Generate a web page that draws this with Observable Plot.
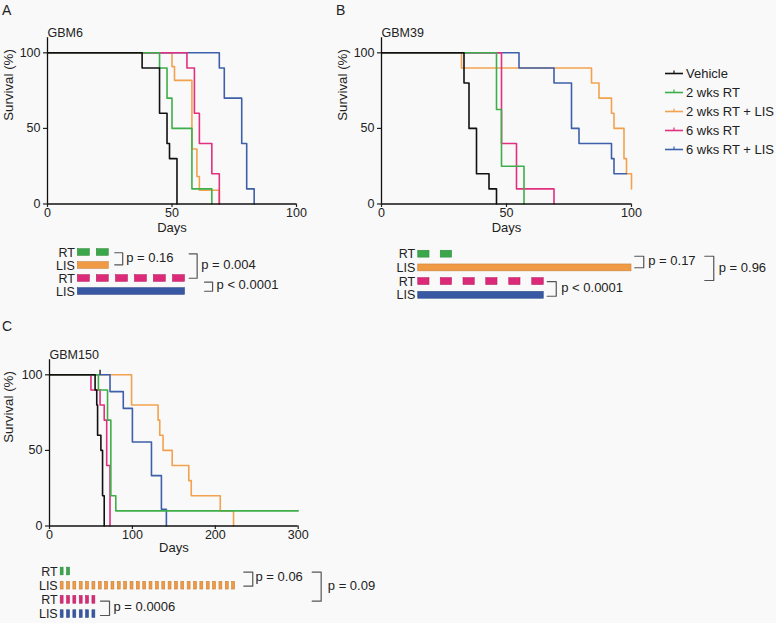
<!DOCTYPE html>
<html><head><meta charset="utf-8">
<script src="https://cdn.jsdelivr.net/npm/d3@7"></script>
<script src="https://cdn.jsdelivr.net/npm/@observablehq/plot@0.6"></script>
<style>
html,body{margin:0;padding:0;background:#f9f9f9;}
#root{position:relative;width:776px;height:623px;overflow:hidden;font-family:"Liberation Sans",Arial,Helvetica,sans-serif;color:#222;}
.letter{position:absolute;font-size:14px;line-height:14px;}
.legend{position:absolute;left:665px;top:64px;font-size:13px;}
.legend .row{display:flex;align-items:center;height:19px;}
.legend svg{display:block;margin-right:3px;}
</style></head>
<body><div id="root"></div>
<script>
// ---------- DATA ----------
const GROUPS = ["Vehicle", "2 wks RT", "2 wks RT + LIS", "6 wks RT", "6 wks RT + LIS"];
const COLORS = ["#111111", "#3fae4a", "#f2a24f", "#e0307f", "#3e5fa9"];

// GBM6 survival steps [day, survival %]
const gbm6Vehicle = [[0,100],[38,90],[45,60],[48,40],[49,30],[52,0]];
const gbm6Rt2     = [[0,100],[45,90],[48,70],[50,50],[58,10],[66,0]];
const gbm6Rt2Lis  = [[0,100],[50,90.9],[51,81.8],[58,36.4],[60,18.2],[61,9.1],[69,0]];
const gbm6Rt6     = [[0,100],[56,90],[59,60],[61,40],[66,20],[69,0]];
const gbm6Rt6Lis  = [[0,100],[69,90],[71,70],[78,40],[80,10],[83,0]];

// GBM39
const gbm39Vehicle = [[0,100],[33,80],[35,50],[38,20],[43,10],[46,0]];
const gbm39Rt2     = [[0,100],[46,62.5],[48,25],[57,0]];
const gbm39Rt2Lis  = [[0,100],[32,90],[84,80],[87,70],[92,60],[93,50],[97,30],[98,20],[100,10]];
const gbm39Rt6     = [[0,100],[48,40],[54,10],[69,0]];
const gbm39Rt6Lis  = [[0,100],[55,90],[69,80],[76,50],[79,40],[92,30],[93,20],[98,20]];

// GBM150
const gbm150Vehicle = [[0,100],[55,90],[57,80],[58,60],[62,50],[64,20],[66,0]];
const gbm150Rt2     = [[0,100],[59,90],[70,70],[74,20],[80,10],[300,10]];
const gbm150Rt2Lis  = [[0,100],[99,80],[131,70],[133,60],[137,50],[148,40],[168,30],[171,20],[206,10],[222,0]];
const gbm150Rt6     = [[0,100],[50,90],[61,80],[66,70],[69,40],[73,0]];
const gbm150Rt6Lis  = [[0,100],[73,88.9],[89,77.8],[100,55.6],[123,33.3],[135,11.1],[141,0]];
const gbm150Censor  = [[61,100]];

// Treatment schedules [start day, end day]
const gbm6Rt2Sched  = [[12.2,17.0],[19.8,24.6]];
const gbm6Lis2Sched = [[12.2,24.6]];
const gbm6Rt6Sched  = [[12.2,17.0],[19.8,24.6],[27.5,32.3],[35.1,39.9],[42.7,47.5],[50.4,55.2]];
const gbm6Lis6Sched = [[12.2,55.2]];

const gbm39Rt2Sched  = [[14.7,19.2],[23.7,28.2]];
const gbm39Lis2Sched = [[14.7,100]];
const gbm39Rt6Sched  = [[14.7,19.2],[23.7,28.2],[32.8,37.3],[41.9,46.4],[51.1,55.6],[60.3,64.9]];
const gbm39Lis6Sched = [[14.7,64.9]];

const gbm150WeekStarts = [13.5,21.2,28.8,36.5,44.1,51.8,59.5,67.1,74.8,82.4,90.1,97.8,105.4,113.1,
  120.7,128.4,136.1,143.7,151.4,159.0,166.7,174.4,182.0,189.7,197.3,205.0,212.7,220.3];
const gbm150DoseDays = 3.5;
const gbm150Rt2Starts  = [13.5,21.2];
const gbm150Lis2Starts = gbm150WeekStarts;
const gbm150Rt6Starts  = [13.5,21.2,28.8,36.5,44.1,51.8];
const gbm150Lis6Starts = [13.5,21.2,28.8,36.5,44.1,51.8];

const schedLabels = ["RT", "LIS", "RT", "LIS"];
const schedColors = ["#3aa84a", "#f09a45", "#dc2a79", "#3858a4"];

// p-values
const gbm6P   = ["p = 0.16", "p = 0.004", "p < 0.0001"];
const gbm39P  = ["p = 0.17", "p = 0.96", "p < 0.0001"];
const gbm150P = ["p = 0.06", "p = 0.09", "p = 0.0006"];

// ---------- DRAWING ----------
const root = document.getElementById("root");
const FONT = '"Liberation Sans", Arial, Helvetica, sans-serif';
function place(node, left, top) {
  node.style.position = "absolute";
  node.style.left = left + "px";
  node.style.top = top + "px";
  root.appendChild(node);
}
function baseStyle(fs) {
  return {background: "transparent", fontFamily: FONT, fontSize: fs + "px", color: "#222", overflow: "visible"};
}

function kmPlot(p) {
  const H = 245;
  const order = [2, 4, 3, 1, 0];
  const lines = order.map(i => Plot.line(p.series[i], {
    x: d => d[0], y: d => d[1], curve: "step-after", stroke: COLORS[i], strokeWidth: 1.6
  }));
  const marks = [
    Plot.axisX({ticks: p.xTicks, tickSize: 3.5, tickPadding: 1, label: null, strokeWidth: 1.2, fontSize: 12.5}),
    Plot.axisY({ticks: [0, 50, 100], tickSize: 4, tickPadding: 3, label: null, strokeWidth: 1.2, fontSize: 12.5}),
    ...lines,
    Plot.ruleY([0], {stroke: "#111", strokeWidth: 1.3}),
    Plot.ruleX([0], {stroke: "#111", strokeWidth: 1.3}),
    Plot.text([p.title], {text: d => d, frameAnchor: "top-left", dy: -10, textAnchor: "start", fontSize: 12.5}),
    Plot.text(["Days"], {text: d => d, frameAnchor: "bottom", dy: p.daysDy, fontSize: 13}),
    Plot.text(["Survival (%)"], {text: d => d, frameAnchor: "left", dx: p.yLabelDx, rotate: -90, fontSize: 13.3})
  ];
  if (p.censor) marks.push(Plot.ruleX(p.censor, {x: d => d[0], y1: d => d[1], y2: d => d[1] + 3, stroke: "#111", strokeWidth: 1.3}));
  return Plot.plot({
    width: p.width, height: H,
    marginLeft: p.mL, marginRight: p.width - p.mL - p.xw,
    marginTop: 37.2, marginBottom: H - 203.5,
    x: {domain: p.xDomain}, y: {domain: [0, 110]},
    style: baseStyle(12.5),
    marks
  });
}

function schedPlot(p) {
  const rows = p.rows.map((bars, i) => ({label: schedLabels[i], color: schedColors[i], bars}));
  const rects = rows.flatMap((r, i) => r.bars.map(b => ({row: i, s: b[0], e: b[1], color: r.color})));
  const h = p.barHalf;
  const br = p.brackets.map((b, i) => ({...b, p: p.pvals[i]}));
  return Plot.plot({
    width: p.width, height: p.height, margin: 0,
    x: {domain: p.xDomain, range: p.xRange, axis: null},
    y: {domain: [0, 3], range: p.yRange, axis: null},
    color: {type: "identity"},
    style: baseStyle(13),
    marks: [
      Plot.rect(rects, {x1: "s", x2: "e", y1: d => d.row - h, y2: d => d.row + h, fill: "color",
        stroke: d => d3.color(d.color).darker(0.5).formatHex(), strokeWidth: 0.6}),
      Plot.text(rows, {x: r => r.bars[0][0], y: (r, i) => i, text: "label", textAnchor: "end", dx: -3, fontSize: 12.5}),
      ...br.map(b => Plot.line([[b.x0, b.r0], [b.x1, b.r0], [b.x1, b.r1], [b.x0, b.r1]],
        {x: d => d[0], y: d => d[1], stroke: "#555", strokeWidth: 1.2})),
      Plot.text(br, {x: "tx", y: "ty", text: "p", textAnchor: "start", fontSize: 13})
    ]
  });
}

// Panel letters
[["A", 2, 3], ["B", 336, 3], ["C", 2, 319]].forEach(([t, l, tp]) => {
  const d = document.createElement("div");
  d.className = "letter"; d.textContent = t;
  d.style.left = l + "px"; d.style.top = tp + "px";
  root.appendChild(d);
});

// Panel A
place(kmPlot({title: "GBM6", series: [gbm6Vehicle, gbm6Rt2, gbm6Rt2Lis, gbm6Rt6, gbm6Rt6Lis],
  xDomain: [0, 100], xTicks: [0, 50, 100], width: 310, mL: 47, xw: 249, daysDy: 27.5, yLabelDx: -38.3}), 0, 0);
place(schedPlot({width: 330, height: 62, xDomain: [0, 100], xRange: [47, 296], yRange: [12, 51], barHalf: 0.254,
  rows: [gbm6Rt2Sched, gbm6Lis2Sched, gbm6Rt6Sched, gbm6Lis6Sched], pvals: gbm6P,
  brackets: [
    {x0: 27.0, x1: 30.2, r0: 0.02, r1: 0.95, tx: 31.6, ty: 0.4},
    {x0: 56.9, x1: 60.1, r0: 0.1, r1: 1.98, tx: 61.7, ty: 0.95},
    {x0: 63.1, x1: 66.3, r0: 2.28, r1: 2.98, tx: 67.9, ty: 2.5}
  ]}), 0, 240);

// Panel B
place(kmPlot({title: "GBM39", series: [gbm39Vehicle, gbm39Rt2, gbm39Rt2Lis, gbm39Rt6, gbm39Rt6Lis],
  xDomain: [0, 100], xTicks: [0, 50, 100], width: 310, mL: 51, xw: 250, daysDy: 28, yLabelDx: -38.3}), 330, 0);
place(schedPlot({width: 446, height: 64, xDomain: [0, 100], xRange: [51, 301], yRange: [13.7, 54.8], barHalf: 0.25,
  rows: [gbm39Rt2Sched, gbm39Lis2Sched, gbm39Rt6Sched, gbm39Lis6Sched], pvals: gbm39P,
  brackets: [
    {x0: 101.3, x1: 104.9, r0: 0.15, r1: 0.99, tx: 106.7, ty: 0.5},
    {x0: 129.3, x1: 132.9, r0: 0.15, r1: 1.92, tx: 134.9, ty: 1.0},
    {x0: 66.3, x1: 69.9, r0: 2.0, r1: 3.07, tx: 71.9, ty: 2.43}
  ]}), 330, 240);

// Legend
const leg = document.createElement("div");
leg.className = "legend";
GROUPS.forEach((g, i) => {
  const row = document.createElement("div");
  row.className = "row";
  row.innerHTML = `<svg width="18" height="19"><line x1="0" x2="18" y1="9.5" y2="9.5" stroke="${COLORS[i]}" stroke-width="1.6"/>` +
    `<line x1="9" x2="9" y1="6.5" y2="9.5" stroke="${COLORS[i]}" stroke-width="1.2"/></svg><span>${g}</span>`;
  leg.appendChild(row);
});
root.appendChild(leg);

// Panel C
place(kmPlot({title: "GBM150", series: [gbm150Vehicle, gbm150Rt2, gbm150Rt2Lis, gbm150Rt6, gbm150Rt6Lis],
  xDomain: [0, 300], xTicks: [0, 100, 200, 300], width: 310, mL: 49, xw: 248.7, daysDy: 25.5, yLabelDx: -40.5,
  censor: gbm150Censor}), 0, 322);
const toBars = s => s.map(d => [d, d + gbm150DoseDays]);
place(schedPlot({width: 400, height: 65, xDomain: [0, 300], xRange: [49, 297.7], yRange: [13, 55.6], barHalf: 0.27,
  rows: [toBars(gbm150Rt2Starts), toBars(gbm150Lis2Starts), toBars(gbm150Rt6Starts), toBars(gbm150Lis6Starts)], pvals: gbm150P,
  brackets: [
    {x0: 234.4, x1: 245.2, r0: 0.05, r1: 1.03, tx: 248.5, ty: 0.4},
    {x0: 316.9, x1: 327.7, r0: 0.05, r1: 2.09, tx: 335.7, ty: 0.99},
    {x0: 61.5, x1: 72.4, r0: 2.09, r1: 3.1, tx: 77.2, ty: 2.46}
  ]}), 0, 558);
</script>
</body></html>
